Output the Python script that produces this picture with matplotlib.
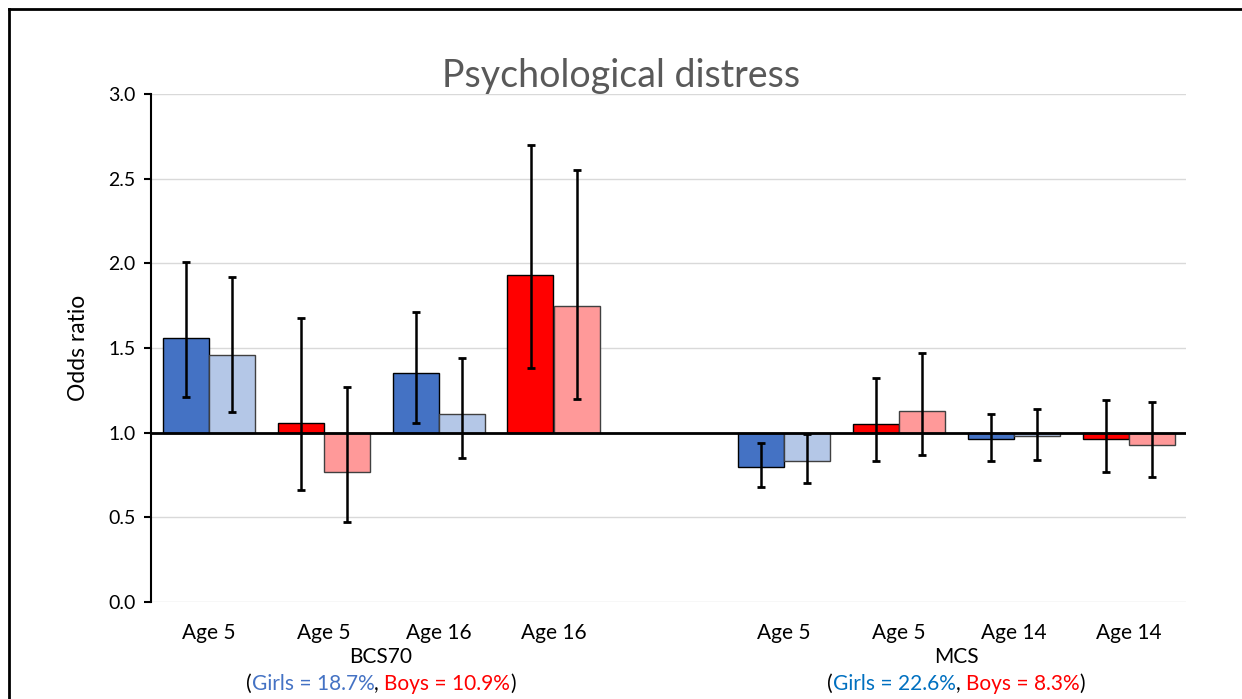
import matplotlib
matplotlib.use("Agg")
import matplotlib.pyplot as plt
import matplotlib.transforms as mtransforms
from matplotlib.lines import Line2D
import numpy as np

plt.rcParams['font.family'] = ['Lato', 'DejaVu Sans']

# odds ratios with 95% CI, one pair of bars per age/sex
bcs_labels = ["Age 5", "Age 5", "Age 16", "Age 16"]
mcs_labels = ["Age 5", "Age 5", "Age 14", "Age 14"]
sexes = ["girls", "boys", "girls", "boys"]

bcs_or_1 = [1.56, 1.06, 1.35, 1.93]
bcs_lo_1 = [1.21, 0.66, 1.06, 1.38]
bcs_hi_1 = [2.01, 1.68, 1.71, 2.70]
bcs_or_2 = [1.46, 0.77, 1.11, 1.75]
bcs_lo_2 = [1.12, 0.47, 0.85, 1.20]
bcs_hi_2 = [1.92, 1.27, 1.44, 2.55]

mcs_or_1 = [0.80, 1.05, 0.96, 0.96]
mcs_lo_1 = [0.68, 0.83, 0.83, 0.77]
mcs_hi_1 = [0.94, 1.32, 1.11, 1.19]
mcs_or_2 = [0.83, 1.13, 0.98, 0.93]
mcs_lo_2 = [0.70, 0.87, 0.84, 0.74]
mcs_hi_2 = [0.99, 1.47, 1.14, 1.18]

cohorts = ["BCS70", "MCS"]
girls_pct = ["18.7%", "22.6%"]
boys_pct = ["10.9%", "8.3%"]

dark = {"girls": "#4472C4", "boys": "#FF0000"}
light = {"girls": "#B4C7E7", "boys": "#FF9999"}
girls_txt = ["#4472C4", "#0070C0"]

fs = 15

fig = plt.figure(figsize=(12.42, 6.99), dpi=100)
ax = fig.add_axes([151 / 1242, 1 - 602 / 699, 1035 / 1242, 508 / 699])

x_bcs = np.arange(4)
x_mcs = np.arange(4) + 5
w = 0.4
base = 1.0

def draw_pairs(xs, or1, lo1, hi1, or2, lo2, hi2):
    for i, x in enumerate(xs):
        s = sexes[i]
        for dx, v, lo, hi, col, ec in [(-w / 2, or1[i], lo1[i], hi1[i], dark[s], "#000000"),
                                       (w / 2, or2[i], lo2[i], hi2[i], light[s], "#404040")]:
            ax.bar(x + dx, v - base, bottom=base, width=w, color=col,
                   edgecolor=ec, linewidth=1.0, zorder=2)
            ax.errorbar(x + dx, v, yerr=[[v - lo], [hi - v]], fmt="none",
                        ecolor="black", elinewidth=1.8, capsize=2.8, capthick=2, zorder=4)

draw_pairs(x_bcs, bcs_or_1, bcs_lo_1, bcs_hi_1, bcs_or_2, bcs_lo_2, bcs_hi_2)
draw_pairs(x_mcs, mcs_or_1, mcs_lo_1, mcs_hi_1, mcs_or_2, mcs_lo_2, mcs_hi_2)

ax.axhline(base, color="black", linewidth=2, zorder=3)

ax.set_xlim(-0.5, 8.5)
ax.set_ylim(0, 3.0)
ax.set_yticks(np.arange(0, 3.01, 0.5))
ax.set_yticklabels([f"{t:.1f}" for t in np.arange(0, 3.01, 0.5)], fontsize=14)
ax.yaxis.grid(True, color="#D9D9D9", linewidth=1)
ax.set_axisbelow(True)
ax.set_xticks(list(x_bcs) + list(x_mcs))
ax.set_xticklabels(bcs_labels + mcs_labels, fontsize=fs)
ax.tick_params(axis="x", length=0, pad=15)
ax.tick_params(axis="y", length=5, width=1.5, direction="out", pad=6)
for side in ["top", "right", "bottom"]:
    ax.spines[side].set_visible(False)
ax.spines["left"].set_linewidth(1.5)
ax.set_ylabel("Odds ratio", fontsize=16.5, labelpad=14)

fig.text(0.5, 1 - 76 / 699, "Psychological distress", ha="center", va="center",
         fontsize=27, color="#595959")

# cohort names and prevalence lines under each group of bars
trans = mtransforms.blended_transform_factory(ax.transData, fig.transFigure)
renderer = fig.canvas.get_renderer()
for k, xs in enumerate([x_bcs, x_mcs]):
    xc = xs.mean()
    fig.text(xc, 1 - 657 / 699, cohorts[k], ha="center", va="center",
             fontsize=fs, transform=trans)
    parts = [("(", "black"), ("Girls = " + girls_pct[k], girls_txt[k]), (", ", "black"),
             ("Boys = " + boys_pct[k], "#FF0000"), (")", "black")]
    first = fig.text(xc, 1 - 684 / 699, parts[0][0], color=parts[0][1], ha="left",
                     va="center", fontsize=fs, transform=trans)
    total = 0
    for s, c in parts:
        t = fig.text(0, 0, s, fontsize=fs)
        total += t.get_window_extent(renderer).width
        t.remove()
    first.set_transform(trans + mtransforms.ScaledTranslation(-total / 2 / fig.dpi, 0, fig.dpi_scale_trans))
    prev = first
    for s, c in parts[1:]:
        prev = ax.annotate(s, xy=(1, 0), xycoords=prev, color=c, fontsize=fs,
                           ha="left", va="bottom", annotation_clip=False)

# outer frame
fig.add_artist(Line2D([8.5 / 1242, 8.5 / 1242], [0, 1 - 8.5 / 699], color="black",
                      linewidth=2, transform=fig.transFigure))
fig.add_artist(Line2D([8.5 / 1242, 1], [1 - 8.5 / 699, 1 - 8.5 / 699], color="black",
                      linewidth=2, transform=fig.transFigure))

fig.savefig("out.png", dpi=100)
